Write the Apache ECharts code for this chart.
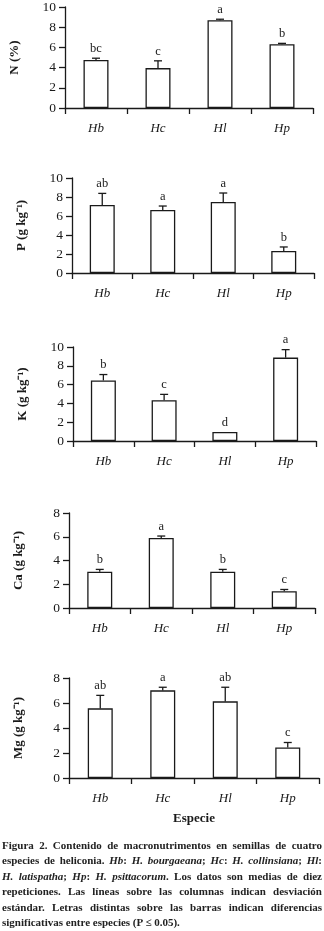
<!DOCTYPE html>
<html>
<head>
<meta charset="utf-8">
<script src="https://cdn.jsdelivr.net/npm/echarts@6/dist/echarts.min.js"></script>
<style>
  html, body { margin: 0; padding: 0; background: #fff; }
  #chart { position: absolute; left: 0; top: 0; width: 324px; height: 931px; }
  #caption {
    position: absolute; left: 2px; top: 838px; width: 320px;
    font-family: 'Liberation Serif', serif; font-weight: bold; font-size: 11px;
    line-height: 15.4px; color: #222; white-space: nowrap;
  }
  #caption div { text-align: justify; text-align-last: justify; }
  #caption div.last { text-align-last: left; }
</style>
</head>
<body>
<div id="chart"></div>
<div id="caption">
  <div>Figura 2. Contenido de macronutrimentos en semillas de cuatro</div>
  <div>especies de heliconia. <i>Hb</i>: <i>H. bourgaeana</i>; <i>Hc</i>: <i>H. collinsiana</i>; <i>Hl</i>:</div>
  <div><i>H. latispatha</i>; <i>Hp</i>: <i>H. psittacorum</i>. Los datos son medias de diez</div>
  <div>repeticiones. Las líneas sobre las columnas indican desviación</div>
  <div>estándar. Letras distintas sobre las barras indican diferencias</div>
  <div class="last">significativas entre especies (P ≤ 0.05).</div>
</div>
<script>
// species
const categories = ['Hb', 'Hc', 'Hl', 'Hp'];

// N (%)
const nMean = [4.75, 3.95, 8.69, 6.32];
const nSd = [0.18, 0.72, 0.1, 0.08];
const nLetters = ['bc', 'c', 'a', 'b'];

// P (g kg-1)
const pMean = [7.16, 6.63, 7.47, 2.32];
const pSd = [1.22, 0.42, 0.95, 0.42];
const pLetters = ['ab', 'a', 'a', 'b'];

// K (g kg-1)
const kMean = [6.44, 4.33, 0.95, 8.87];
const kSd = [0.63, 0.63, 0, 0.85];
const kLetters = ['b', 'c', 'd', 'a'];

// Ca (g kg-1)
const caMean = [3.05, 5.89, 3.05, 1.41];
const caSd = [0.2, 0.17, 0.2, 0.15];
const caLetters = ['b', 'a', 'b', 'c'];

// Mg (g kg-1)
const mgMean = [5.57, 7.01, 6.13, 2.44];
const mgSd = [1.04, 0.25, 1.13, 0.4];
const mgLetters = ['ab', 'a', 'ab', 'c'];

const panels = [
  { name: 'N (%)', mean: nMean, sd: nSd, letters: nLetters, max: 10, grid: { left: 64, top: 7, right: 11, height: 101 } },
  { name: 'P (g kg⁻¹)', mean: pMean, sd: pSd, letters: pLetters, max: 10, grid: { left: 72, top: 178, right: 10, height: 95 } },
  { name: 'K (g kg⁻¹)', mean: kMean, sd: kSd, letters: kLetters, max: 10, grid: { left: 73, top: 347, right: 8, height: 94 } },
  { name: 'Ca (g kg⁻¹)', mean: caMean, sd: caSd, letters: caLetters, max: 8, grid: { left: 69, top: 513, right: 9, height: 95 } },
  { name: 'Mg (g kg⁻¹)', mean: mgMean, sd: mgSd, letters: mgLetters, max: 8, grid: { left: 69, top: 678, right: 5, height: 100 } },
];

const FONT = "'Liberation Serif', serif";
const INK = '#1a1a1a';

const option = {
  animation: false,
  grid: [],
  xAxis: [],
  yAxis: [],
  series: [],
};

panels.forEach((p, i) => {
  option.grid.push(p.grid);
  option.xAxis.push({
    type: 'category',
    gridIndex: i,
    data: categories,
    axisLine: { lineStyle: { color: INK, width: 1.3 } },
    axisTick: { show: true, length: 6, lineStyle: { color: INK, width: 1.3 } },
    axisLabel: { color: INK, fontFamily: FONT, fontStyle: 'italic', fontSize: 13, margin: 14 },
    name: i === panels.length - 1 ? 'Especie' : '',
    nameLocation: 'middle',
    nameGap: 34,
    nameTextStyle: { color: INK, fontFamily: FONT, fontWeight: 'bold', fontSize: 13 },
  });
  option.yAxis.push({
    type: 'value',
    gridIndex: i,
    min: 0,
    max: p.max,
    interval: 2,
    splitLine: { show: false },
    axisLine: { show: true, lineStyle: { color: INK, width: 1.3 } },
    axisTick: { show: true, length: 6, lineStyle: { color: INK, width: 1.3 } },
    axisLabel: { color: INK, fontFamily: FONT, fontSize: 13.5, margin: 9 },
    name: p.name,
    nameLocation: 'middle',
    nameGap: 44,
    nameTextStyle: { color: INK, fontFamily: FONT, fontWeight: 'bold', fontSize: 13 },
  });
  option.series.push({
    type: 'bar',
    xAxisIndex: i,
    yAxisIndex: i,
    barWidth: 25,
    data: p.mean,
    itemStyle: { color: '#fff', borderColor: INK, borderWidth: 1.3 },
  });
  // error bars + significance letters
  option.series.push({
    type: 'custom',
    xAxisIndex: i,
    yAxisIndex: i,
    clip: false,
    z: 5,
    data: categories.map((c, j) => [j, p.mean[j], p.mean[j] + p.sd[j]]),
    renderItem(params, api) {
      const base = api.coord([api.value(0), api.value(1)]);
      const top = api.coord([api.value(0), api.value(2)]);
      const children = [];
      if (api.value(2) > api.value(1)) {
        children.push({ type: 'line', shape: { x1: base[0], y1: base[1], x2: top[0], y2: top[1] }, style: { stroke: INK, lineWidth: 1.3 } });
        children.push({ type: 'line', shape: { x1: top[0] - 4, y1: top[1], x2: top[0] + 4, y2: top[1] }, style: { stroke: INK, lineWidth: 1.3 } });
      }
      children.push({
        type: 'text',
        style: {
          text: p.letters[params.dataIndex],
          x: top[0], y: top[1] - 3,
          align: 'center', verticalAlign: 'bottom',
          font: '12.5px ' + FONT, fill: INK,
        },
      });
      return { type: 'group', children };
    },
  });
});

const chart = echarts.init(document.getElementById('chart'));
chart.setOption(option);
</script>
</body>
</html>
